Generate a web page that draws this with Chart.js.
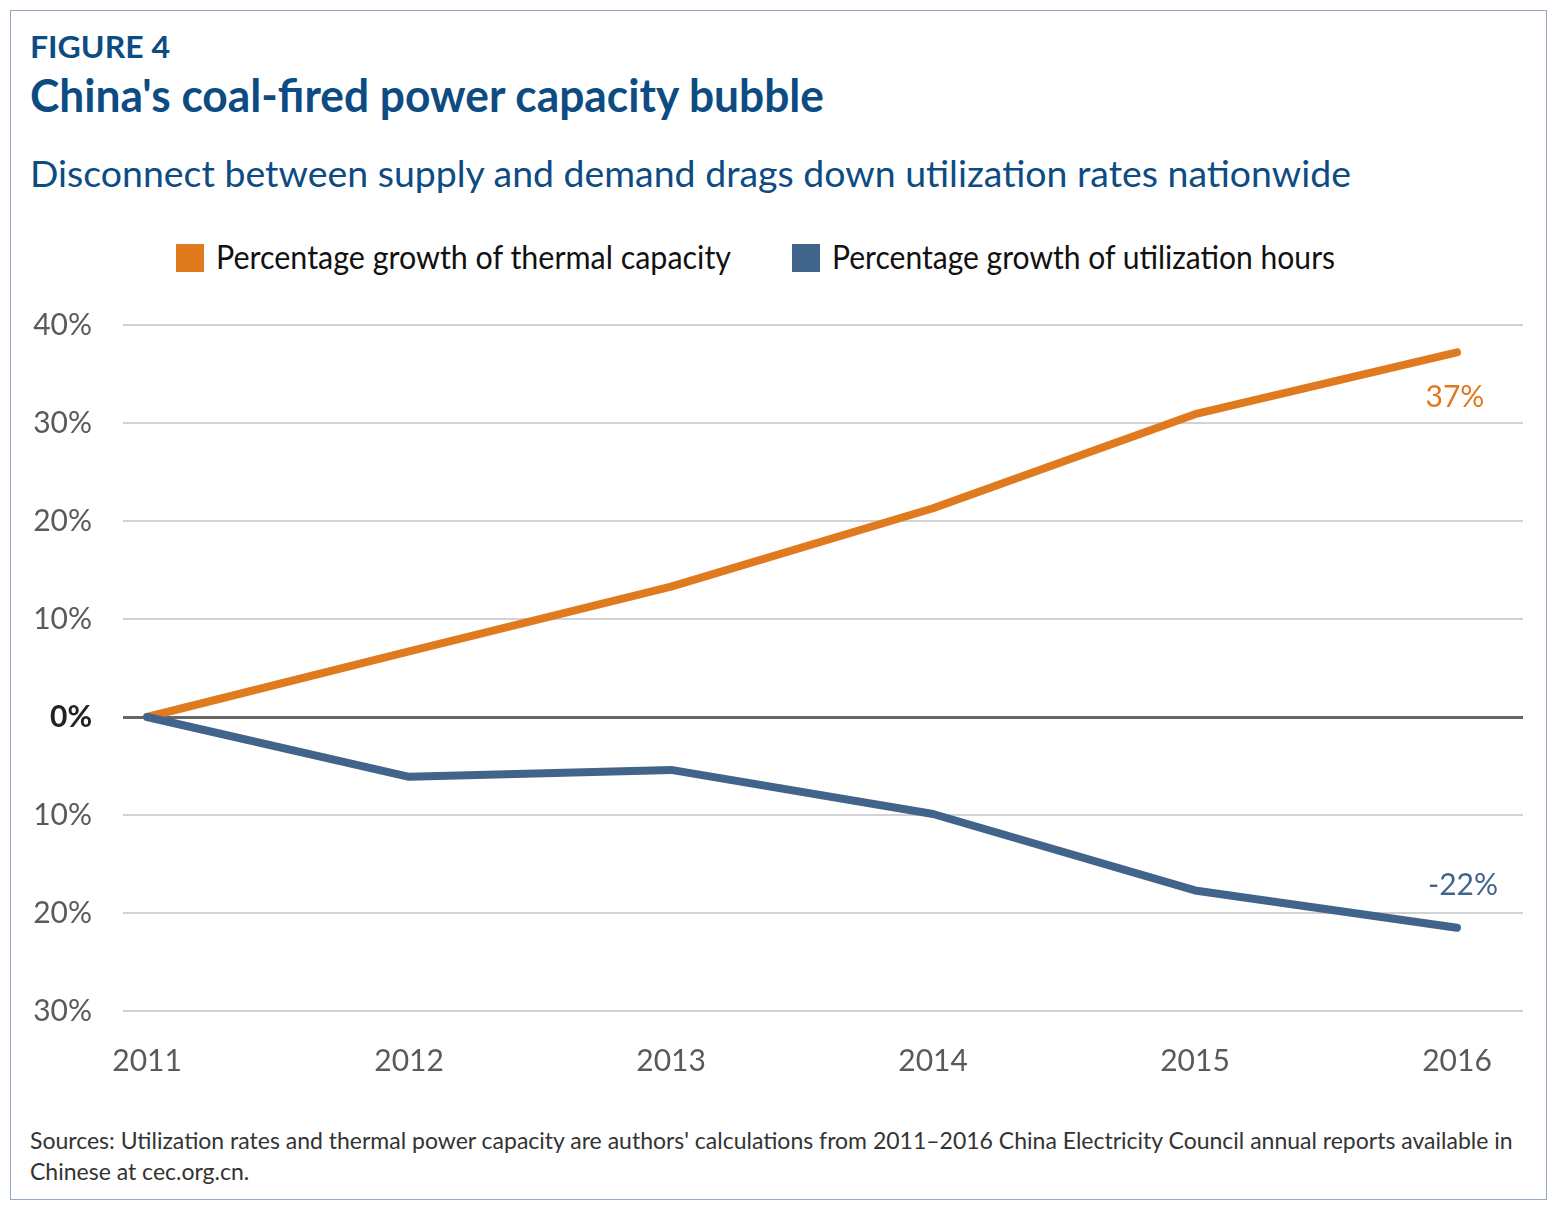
<!DOCTYPE html>
<html>
<head>
<meta charset="utf-8">
<script src="https://cdn.jsdelivr.net/npm/chart.js@4"></script>
<style>
  html, body { margin:0; padding:0; background:#fff; }
  body { width:1559px; height:1210px; position:relative; overflow:hidden; font-family: Lato, "Open Sans", sans-serif; }
  #frame { position:absolute; left:10px; top:10px; width:1537px; height:1190px; border:1.5px solid #8fa9c4; box-sizing:border-box; }
  .t { position:absolute; white-space:nowrap; transform-origin:0 0; }
  #fig { left:30px; top:28px; font-size:30px; font-weight:700; color:#0d4c83; }
  #title { left:30px; top:68px; font-size:45px; font-weight:700; color:#0d4c83; }
  #sub { left:30px; top:150px; font-size:37px; color:#0d4c83; }
  .leg { position:absolute; top:244px; width:28px; height:28px; }
  .legt { top:236px; font-size:33px; color:#111; }
  #src { left:30px; top:1125px; font-size:23px; color:#333; line-height:31px; white-space:normal; width:1500px; }
  #wrap { position:absolute; left:0; top:0; width:1559px; height:1210px; }
</style>
</head>
<body>
<div id="frame"></div>
<div class="t fit" id="fig" data-w="140">FIGURE 4</div>
<div class="t fit" id="title" data-w="794">China's coal-fired power capacity bubble</div>
<div class="t fit" id="sub" data-w="1321">Disconnect between supply and demand drags down utilization rates nationwide</div>
<div class="leg" style="left:176px;background:#e07a1f"></div>
<div class="t legt fit" style="left:216px" data-w="515">Percentage growth of thermal capacity</div>
<div class="leg" style="left:792px;background:#41648a"></div>
<div class="t legt fit" style="left:832px" data-w="503">Percentage growth of utilization hours</div>
<div class="t" id="src">Sources: Utilization rates and thermal power capacity are authors' calculations from 2011–2016 China Electricity Council annual reports available in Chinese at cec.org.cn.</div>
<div id="wrap"><canvas id="c"></canvas></div>
<script>
const years = [2011, 2012, 2013, 2014, 2015, 2016];
const capacityGrowth = [0, 6.7, 13.3, 21.3, 30.9, 37.2];
const hoursGrowth = [0, -6.1, -5.4, -9.9, -17.7, -21.5];
const endLabels = ["37%", "-22%"];
const yTicks = [-30, -20, -10, 0, 10, 20, 30, 40];

const ORANGE = '#e07a1f', BLUE = '#41648a';

document.querySelectorAll('.fit').forEach(el => {
  const w = el.getBoundingClientRect().width;
  const target = parseFloat(el.dataset.w);
  if (w > 0) el.style.transform = 'scaleX(' + (target / w) + ')';
});

const endLabelPlugin = {
  id: 'endLabels',
  afterDatasetsDraw(chart) {
    const ctx = chart.ctx;
    const xs = chart.scales.x, ys = chart.scales.y;
    const last = years.length - 1;
    ctx.save();
    ctx.font = '30px Lato, "Open Sans", sans-serif';
    ctx.textAlign = 'center';
    ctx.textBaseline = 'middle';
    ctx.fillStyle = ORANGE;
    ctx.fillText(endLabels[0], xs.getPixelForValue(years[last]) - 2, ys.getPixelForValue(capacityGrowth[last]) + 45);
    ctx.fillStyle = BLUE;
    ctx.fillText(endLabels[1], xs.getPixelForValue(years[last]) + 6, ys.getPixelForValue(hoursGrowth[last]) - 42);
    ctx.restore();
  }
};

new Chart(document.getElementById('c'), {
  type: 'line',
  data: {
    datasets: [
      { label: 'Percentage growth of thermal capacity', data: years.map((y, i) => ({x: y, y: capacityGrowth[i]})),
        borderColor: ORANGE, borderWidth: 8, pointRadius: 0, borderCapStyle: 'round', borderJoinStyle: 'round', order: 1, tension: 0 },
      { label: 'Percentage growth of utilization hours', data: years.map((y, i) => ({x: y, y: hoursGrowth[i]})),
        borderColor: BLUE, borderWidth: 8, pointRadius: 0, borderCapStyle: 'round', borderJoinStyle: 'round', order: 0, tension: 0 }
    ]
  },
  options: {
    responsive: true, maintainAspectRatio: false, animation: false,
    layout: { padding: { top: 325, right: 36, bottom: 120, left: 0 } },
    plugins: { legend: { display: false }, tooltip: { enabled: false } },
    scales: {
      x: {
        type: 'linear', min: 2010.908, max: 2016.252,
        afterBuildTicks(s) { s.ticks = years.map(v => ({ value: v })); },
        afterFit(s) { s.height = 79; },
        grid: { display: false, drawTicks: false }, border: { display: false },
        ticks: { padding: 32, color: '#5a5a5a', font: { family: 'Lato', size: 30 }, callback: v => String(v) }
      },
      y: {
        min: -30, max: 40,
        afterBuildTicks(s) { s.ticks = yTicks.map(v => ({ value: v })); },
        afterFit(s) { s.width = 123; },
        border: { display: false },
        grid: {
          drawTicks: false,
          color: c => c.tick && c.tick.value === 0 ? '#666666' : '#d2d2d2',
          lineWidth: c => c.tick && c.tick.value === 0 ? 3 : 2
        },
        ticks: {
          padding: 31,
          color: c => c.tick && c.tick.value === 0 ? '#222' : '#5a5a5a',
          font: c => ({ family: 'Lato', size: 30, weight: c.tick && c.tick.value === 0 ? 'bold' : 'normal' }),
          callback: v => Math.abs(v) + '%'
        }
      }
    }
  },
  plugins: [endLabelPlugin]
});
</script>
</body>
</html>
